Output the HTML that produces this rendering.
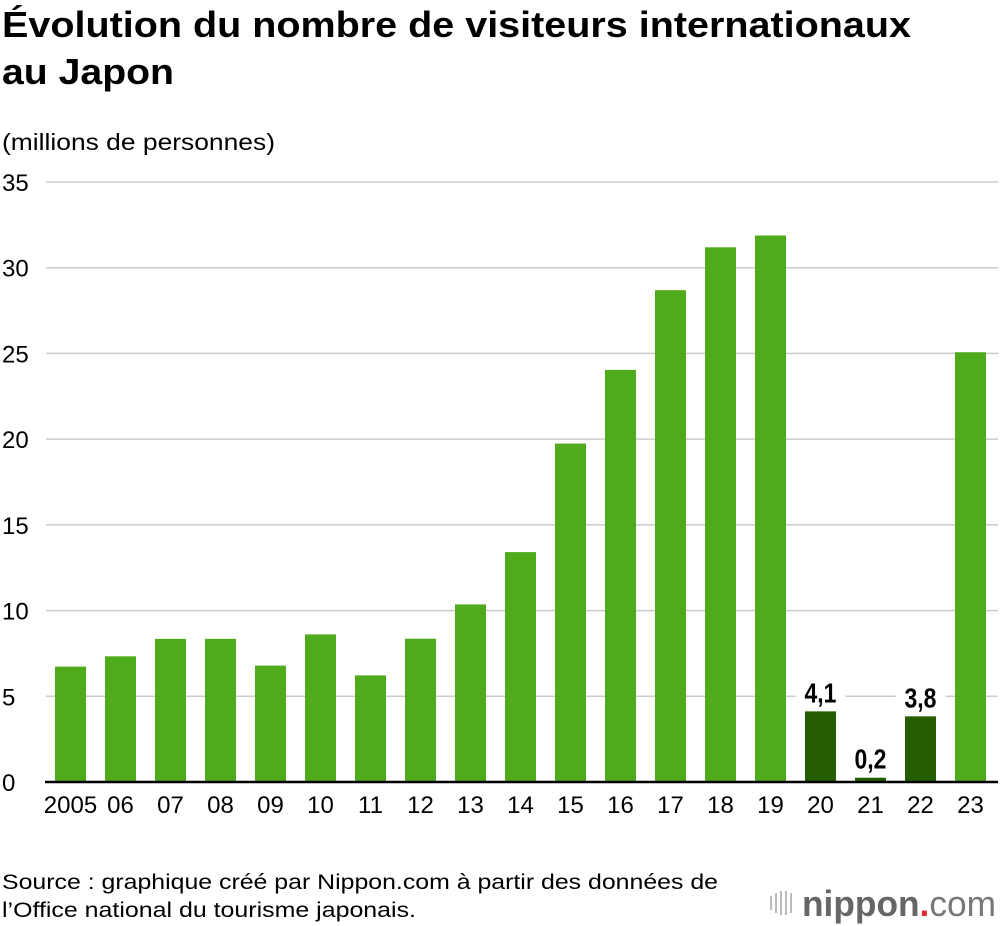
<!DOCTYPE html>
<html><head><meta charset="utf-8"><style>
body{margin:0;background:#fff;width:1000px;height:926px;overflow:hidden;font-family:"Liberation Sans",Arial,sans-serif;}
</style></head><body>
<svg width="1000" height="926" viewBox="0 0 1000 926" style="position:absolute;left:0;top:0">
<text x="2" y="37" font-size="36" font-weight="bold" textLength="909" lengthAdjust="spacingAndGlyphs">Évolution du nombre de visiteurs internationaux</text>
<text x="2" y="84" font-size="36" font-weight="bold" textLength="172" lengthAdjust="spacingAndGlyphs">au Japon</text>
<text x="2" y="150" font-size="23" textLength="273" lengthAdjust="spacingAndGlyphs">(millions de personnes)</text>
<g id="grid"></g><g id="bars"></g><g id="labels"></g>
<line x1="45" x2="998" y1="782" y2="782" stroke="#000" stroke-width="2.5"/>
<text x="2" y="889" font-size="21" textLength="716" lengthAdjust="spacingAndGlyphs">Source : graphique créé par Nippon.com à partir des données de</text>
<text x="2" y="917" font-size="21" textLength="414" lengthAdjust="spacingAndGlyphs">l’Office national du tourisme japonais.</text>
<g>
<g fill="#bbb"><rect x="770" y="896" width="2" height="14"/><rect x="775" y="893" width="2" height="20"/><rect x="780" y="891" width="2" height="24"/><rect x="785" y="891" width="2" height="24"/><rect x="790" y="893" width="2" height="20"/></g>
<text x="802" y="916" font-size="36" font-weight="bold" fill="#666" textLength="194" lengthAdjust="spacingAndGlyphs">nippon<tspan fill="#e8262d">.</tspan><tspan font-weight="normal" fill="#777">com</tspan></text>
</g>
</svg>
<script>
const categories=["2005","06","07","08","09","10","11","12","13","14","15","16","17","18","19","20","21","22","23"];
const values=[6.73,7.33,8.35,8.35,6.79,8.61,6.22,8.36,10.36,13.41,19.74,24.04,28.69,31.19,31.88,4.12,0.25,3.83,25.07];
const valueLabels=[null,null,null,null,null,null,null,null,null,null,null,null,null,null,null,"4,1","0,2","3,8",null];
const yTicks=[0,5,10,15,20,25,30,35];
const NS="http://www.w3.org/2000/svg";
const y=v=>782-v*(600/35);
const x=i=>70.5+i*50;
function mk(t,a,p){const e=document.createElementNS(NS,t);for(const k in a)e.setAttribute(k,a[k]);p.appendChild(e);return e;}
const g=document.getElementById('grid'),b=document.getElementById('bars'),l=document.getElementById('labels');
yTicks.forEach(t=>{
 if(t>0){const ln=mk('line',{x1:46,x2:998,y1:y(t),y2:y(t),stroke:'#ccc','stroke-width':1.5},g);
 
 }
 const tx=mk('text',{x:2,y:y(t)+9,'font-size':24},g);tx.textContent=t;
 
 
});
categories.forEach((c,i)=>{
 const dark=valueLabels[i]!==null;
 const r=mk('rect',{x:x(i)-15.5,y:y(values[i]),width:31,height:782-y(values[i]),fill:dark?'#245e00':'#4fab1c'},b);
 
 
 const tx=mk('text',{x:x(i),y:813,'font-size':24,'text-anchor':'middle'},l);tx.textContent=c;
 
 
 if(dark){
  const by=y(values[i])-9;
  const bg=mk('rect',{x:x(i)-25,y:by-26,width:50,height:30,fill:'#fff'},l);
  
  
  const v=mk('text',{x:x(i),y:by,'font-size':28,'font-weight':'bold','text-anchor':'middle',transform:`translate(${x(i)} 0) scale(0.82 1) translate(${-x(i)} 0)`},l);v.textContent=valueLabels[i];
  
  
 }
});
</script>
</body></html>
